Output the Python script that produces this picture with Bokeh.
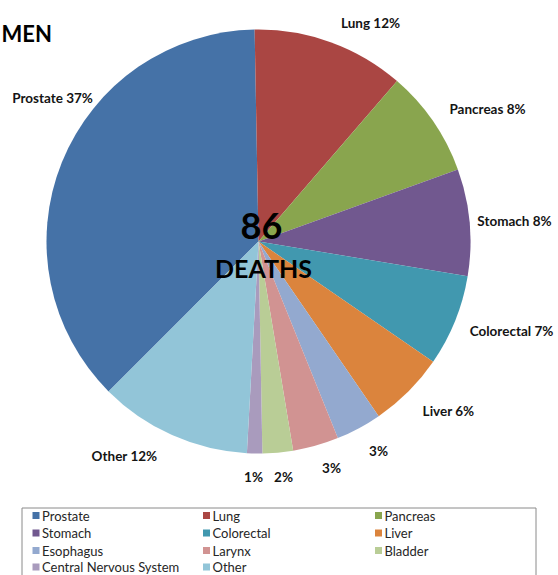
import math
from bokeh.plotting import figure
from bokeh.models import Range1d, ColumnDataSource
from bokeh.core.properties import value
from bokeh.embed import file_html
from bokeh.resources import INLINE

# ---- data ----
categories = ["Prostate", "Lung", "Pancreas", "Stomach", "Colorectal", "Liver",
              "Esophagus", "Larynx", "Bladder", "Central Nervous System", "Other"]
deaths = [32, 10, 7, 7, 6, 5, 3, 3, 2, 1, 10]
colors = ["#4572A7", "#AA4643", "#89A54E", "#71588F", "#4198AF", "#DB843D",
          "#93A9CF", "#D19392", "#B9CD96", "#A99BBD", "#92C5D8"]
show_name = [True, True, True, True, True, True, False, False, False, False, True]
title_text = "MEN"
center_number = "86"
center_word = "DEATHS"
first_slice_angle_deg = 225  # clockwise from 12 o'clock

W, H = 558, 575
def Y(ry):  # reference pixel row -> data y
    return H - ry

p = figure(width=W, height=H, output_backend="svg", toolbar_location=None,
           x_range=Range1d(0, W), y_range=Range1d(0, H),
           x_axis_location=None, y_axis_location=None,
           min_border=0, min_border_left=0, min_border_right=0,
           min_border_top=0, min_border_bottom=0)
p.grid.visible = False
p.outline_line_color = None
p.background_fill_color = "white"
p.border_fill_color = "white"

# ---- pie ----
total = sum(deaths)
cx, cy, r = 258, Y(241), 212
offset = math.radians(first_slice_angle_deg)
starts, ends = [], []
cum = 0
for d in deaths:
    a = offset + cum / total * 2 * math.pi
    b = a + d / total * 2 * math.pi
    starts.append(math.pi / 2 - b)
    ends.append(math.pi / 2 - a)
    cum += d
src = ColumnDataSource(dict(start=starts, end=ends, color=colors, name=categories))
p.wedge(x=cx, y=cy, radius=r, start_angle="start", end_angle="end",
        direction="anticlock", fill_color="color", line_color=None, source=src)

# ---- data labels ----
label_pos = [(52, 97), (370, 22), (487, 108), (514, 220), (511, 330), (448, 410),
             (378, 450), (331, 467), (283, 476), (253, 476), (124, 455)]
texts = []
for name, d, sn in zip(categories, deaths, show_name):
    pct = int(round(d / total * 100))
    texts.append(f"{name} {pct}%" if sn else f"{pct}%")
p.text(x=[q[0] for q in label_pos], y=[Y(q[1]) for q in label_pos], text=texts,
       text_font=value("Lato"), text_font_style="bold", text_font_size="13.5px",
       text_color="#141414", text_align="center", text_baseline="middle")

# ---- center texts ----
p.text(x=[261], y=[Y(225)], text=[center_number], text_font=value("Lato"),
       text_font_style="bold", text_font_size="36px", text_color="black",
       text_align="center", text_baseline="middle")
p.text(x=[263], y=[Y(267)], text=[center_word], text_font=value("Lato"),
       text_font_style="bold", text_font_size="25px", text_color="black",
       text_align="center", text_baseline="middle")

# ---- title ----
p.text(x=[1], y=[Y(33)], text=[title_text], text_font=value("Lato"),
       text_font_style="bold", text_font_size="22px", text_color="black",
       text_align="left", text_baseline="middle")

# ---- legend ----
p.quad(left=21.5, right=535.5, top=Y(507.5), bottom=Y(590), fill_color=None,
       line_color="#8a8a8a", line_width=1)
col_x = [35.5, 206, 378]
row_y = [515, 532.5, 550, 566.5]
lx = [col_x[i % 3] for i in range(len(categories))]
ly = [Y(row_y[i // 3]) for i in range(len(categories))]
p.rect(x=lx, y=ly, width=7, height=7, fill_color=colors, line_color=None)
p.text(x=[v + 6 for v in lx], y=ly, text=categories, text_font=value("Lato"),
       text_font_size="13px", text_color="#262626", text_align="left",
       text_baseline="middle")

open("out.html", "w").write(file_html(p, INLINE))
